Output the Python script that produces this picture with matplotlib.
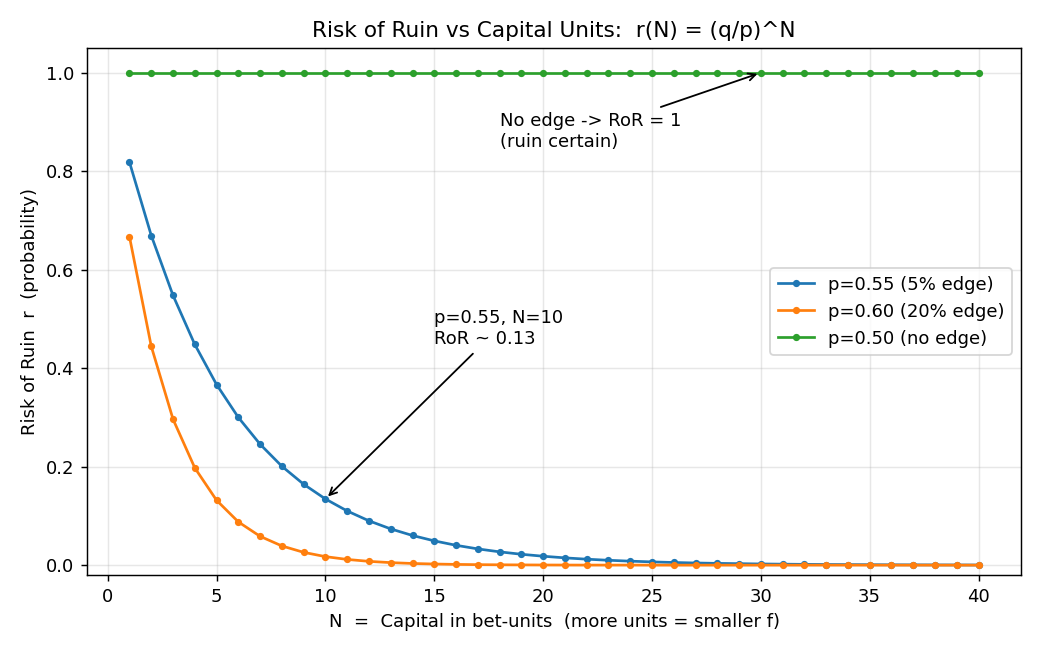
import matplotlib
matplotlib.use("Agg")
import matplotlib.pyplot as plt

N = list(range(1, 41))
ror_p55 = [0.8182, 0.6694, 0.5477, 0.4481, 0.3667, 0.3000, 0.2455, 0.2008, 0.1643, 0.1344,
           0.1100, 0.0900, 0.0736, 0.0602, 0.0493, 0.0403, 0.0330, 0.0270, 0.0221, 0.0181,
           0.0148, 0.0121, 0.0099, 0.0081, 0.0066, 0.0054, 0.0044, 0.0036, 0.0030, 0.0024,
           0.0020, 0.0016, 0.0013, 0.0011, 0.0009, 0.0007, 0.0006, 0.0005, 0.0004, 0.0003]
ror_p60 = [0.6667, 0.4444, 0.2963, 0.1975, 0.1317, 0.0878, 0.0585, 0.0390, 0.0260, 0.0173,
           0.0116, 0.0077, 0.0051, 0.0034, 0.0023, 0.0015, 0.0010, 0.0007, 0.0005, 0.0003,
           0.0002, 0.0001, 0.0001, 0.0001, 0.0000, 0.0000, 0.0000, 0.0000, 0.0000, 0.0000,
           0.0000, 0.0000, 0.0000, 0.0000, 0.0000, 0.0000, 0.0000, 0.0000, 0.0000, 0.0000]
ror_p50 = [1.0] * 40
labels = ["p=0.55 (5% edge)", "p=0.60 (20% edge)", "p=0.50 (no edge)"]

fig, ax = plt.subplots(figsize=(8, 5), dpi=130)
ax.plot(N, ror_p55, marker="o", markersize=3, color="#1f77b4", label=labels[0])
ax.plot(N, ror_p60, marker="o", markersize=3, color="#ff7f0e", label=labels[1])
ax.plot(N, ror_p50, marker="o", markersize=3, color="#2ca02c", label=labels[2])

ax.set_title("Risk of Ruin vs Capital Units:  r(N) = (q/p)^N", fontsize=12)
ax.set_xlabel("N  =  Capital in bet-units  (more units = smaller f)", fontsize=10)
ax.set_ylabel("Risk of Ruin  r  (probability)", fontsize=10)
ax.set_ylim(-0.02, 1.05)
ax.grid(True, alpha=0.3)

ax.annotate("p=0.55, N=10\nRoR ~ 0.13", xy=(10, ror_p55[9]), xytext=(15, 0.45),
            arrowprops=dict(arrowstyle="->", color="black"), fontsize=10)
ax.annotate("No edge -> RoR = 1\n(ruin certain)", xy=(30, 1.0), xytext=(18, 0.85),
            arrowprops=dict(arrowstyle="->", color="black"), fontsize=10)

ax.legend(loc="center right", fontsize=10)
fig.subplots_adjust(left=0.0837, right=0.9817, top=0.926, bottom=0.1154)
fig.savefig("out.png", dpi=130)
